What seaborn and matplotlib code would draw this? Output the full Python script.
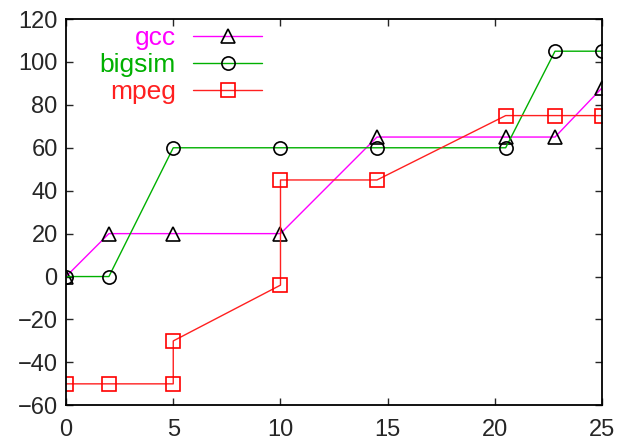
import matplotlib
matplotlib.use("Agg")
import matplotlib.pyplot as plt
import seaborn as sns

# data
gcc_x = [0, 2, 5, 10, 14.5, 20.5, 22.8, 25]
gcc_y = [0, 20, 20, 20, 65, 65, 65, 88]

bigsim_x = [0, 2, 5, 10, 14.5, 20.5, 22.8, 25]
bigsim_y = [0, 0, 60, 60, 60, 60, 105, 105]

mpeg_x = [0, 2, 5, 5, 10, 10, 14.5, 20.5, 22.8, 25]
mpeg_y = [-50, -50, -50, -30, -4, 45, 45, 75, 75, 75]

x_ticks = [0, 5, 10, 15, 20, 25]
y_ticks = [-60, -40, -20, 0, 20, 40, 60, 80, 100, 120]

sns.set_style("ticks")
plt.rcParams['font.family'] = ['Liberation Sans', 'DejaVu Sans']

fig = plt.figure(figsize=(6.17, 4.42), dpi=100)
ax = fig.add_axes([0.107, 0.083, 0.869, 0.874])

common = dict(estimator=None, sort=False, linewidth=1.0, markersize=9.5,
              markeredgewidth=1.2, markerfacecolor='none', ax=ax)
sns.lineplot(x=gcc_x, y=gcc_y, color='#ff00ff', marker='^',
             markeredgecolor='black', label='gcc', **common)
sns.lineplot(x=bigsim_x, y=bigsim_y, color='#00b000', marker='o',
             markeredgecolor='black', label='bigsim', **common)
sns.lineplot(x=mpeg_x, y=mpeg_y, color='#ff2020', marker='s',
             markeredgecolor='#ff0000', label='mpeg', **common)

ax.set_xlim(0, 25)
ax.set_ylim(-60, 120)
ax.set_xticks(x_ticks)
ax.set_yticks(y_ticks)
ax.tick_params(direction='in', length=5, width=1, labelsize=17,
               top=True, right=True)
ax.tick_params(axis='x', pad=10)
ax.tick_params(axis='y', pad=6)
for s in ax.spines.values():
    s.set_linewidth(1.3)
    s.set_color('black')

leg = ax.legend(loc='upper left', bbox_to_anchor=(0.063, 0.982),
                frameon=False, markerfirst=False, labelcolor='linecolor',
                fontsize=19, handlelength=2.6, handletextpad=0.65,
                labelspacing=0.12, borderaxespad=0, borderpad=0)

fig.savefig('out.png', dpi=100)
